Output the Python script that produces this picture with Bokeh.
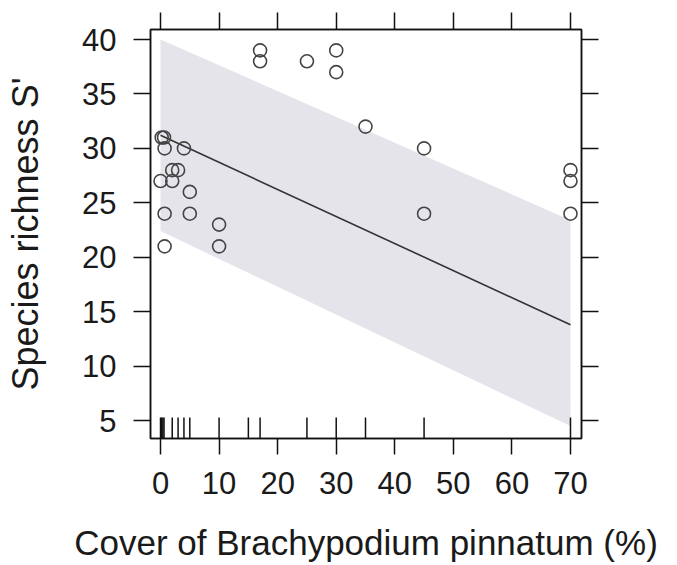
from bokeh.plotting import figure
from bokeh.models import LinearAxis, FixedTicker, Range1d
from bokeh.embed import file_html
from bokeh.resources import INLINE

# ---- data ----
cover = [17, 17, 25, 30, 30, 35, 45, 45, 70, 70, 70, 10, 10, 5, 5,
         0, 0.2, 0.6, 0.7, 4, 2, 3, 2, 0.7, 0.7]
richness = [39, 38, 38, 39, 37, 32, 30, 24, 28, 27, 24, 23, 21, 26, 24,
            27, 31, 31, 30, 30, 28, 28, 27, 24, 21]
rug_x = [0, 0.2, 0.4, 0.6, 2, 3, 4, 5, 10, 15, 17, 25, 30, 35, 45, 70]
fit_x = [0, 70]
fit_y = [31.2, 13.8]
fit_lo = [22.4, 4.5]
fit_hi = [40.0, 23.4]
x_ticks = [0, 10, 20, 30, 40, 50, 60, 70]
y_ticks = [5, 10, 15, 20, 25, 30, 35, 40]

FONT = "Liberation Sans"
X0, X1 = -1.71, 71.88
Y0, Y1 = 3.35, 40.92
W, H = 660, 565

p = figure(width=W, height=H, output_backend="svg", toolbar_location=None,
           x_range=Range1d(X0, X1), y_range=Range1d(Y0, Y1),
           x_axis_location=None, y_axis_location=None)
p.min_border_left = 150
p.min_border_right = W - 581
p.min_border_top = 29
p.min_border_bottom = H - 438
p.grid.visible = False
p.outline_line_color = "#111111"
p.outline_line_width = 1.5
p.background_fill_color = "white"
p.border_fill_color = "white"

# band, line, points
p.varea(x=fit_x, y1=fit_lo, y2=fit_hi, fill_color="#e4e4ea", fill_alpha=1.0)
p.line(x=fit_x, y=fit_y, line_color="#333333", line_width=1.6)
p.scatter(x=cover, y=richness, marker="circle", size=13, fill_color=None,
          line_color="#444444", line_width=1.6)

# rug
rug_len = 1.93
p.segment(x0=rug_x, y0=[Y0] * len(rug_x), x1=rug_x, y1=[Y0 + rug_len] * len(rug_x),
          line_color="#111111", line_width=1.5)

def style(ax, labels=True, title_size="35px"):
    ax.axis_line_color = "#111111"
    ax.axis_line_width = 1.5
    ax.major_tick_line_color = "#111111"
    ax.major_tick_line_width = 1.5
    ax.major_tick_in = 0
    ax.minor_tick_line_color = None
    ax.major_label_text_font = FONT
    ax.major_label_text_color = "#1a1a1a"
    ax.axis_label_text_font = FONT
    ax.axis_label_text_font_style = "normal"
    ax.axis_label_text_color = "#1a1a1a"
    if labels:
        ax.major_label_text_font_size = "31px"
        ax.axis_label_text_font_size = title_size
    else:
        ax.major_label_text_font_size = "1px"
        ax.major_label_text_color = None
        ax.major_label_standoff = 0

xb = LinearAxis(ticker=FixedTicker(ticks=x_ticks), axis_label="Cover of Brachypodium pinnatum (%)")
style(xb, title_size="35px")
xb.major_tick_out = 16
xb.major_label_standoff = 17
xb.axis_label_standoff = 26
p.add_layout(xb, "below")

xt = LinearAxis(ticker=FixedTicker(ticks=x_ticks))
style(xt, labels=False)
xt.major_tick_out = 17
p.add_layout(xt, "above")

yl = LinearAxis(ticker=FixedTicker(ticks=y_ticks), axis_label="Species richness S'")
style(yl, title_size="36px")
yl.major_tick_out = 17
yl.major_label_standoff = 17
yl.axis_label_standoff = 33
p.add_layout(yl, "left")

yr = LinearAxis(ticker=FixedTicker(ticks=y_ticks))
style(yr, labels=False)
yr.major_tick_out = 17
p.add_layout(yr, "right")

open("out.html", "w").write(file_html(p, INLINE))
